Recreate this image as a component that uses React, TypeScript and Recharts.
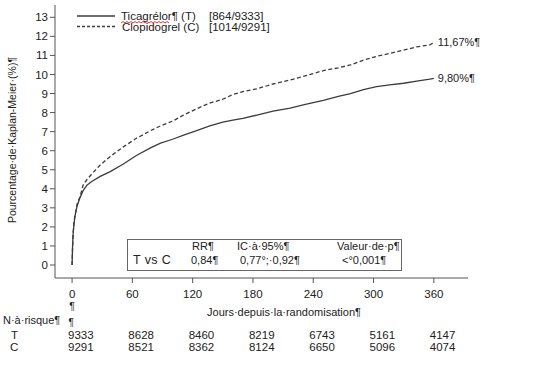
import { LineChart, Line, XAxis, YAxis } from "recharts";

// Kaplan-Meier curves
const days = [0, 0.5, 1, 2, 3, 5, 8, 11, 15, 20, 28, 38, 51, 64, 78, 88, 100, 111, 124, 137, 150, 160, 170, 184, 200, 217, 230, 250, 265, 277, 290, 303, 316, 330, 343, 356, 360];
const ticagrelor = [0, 1.0, 1.6, 2.2, 2.6, 3.1, 3.55, 3.9, 4.2, 4.4, 4.65, 4.9, 5.3, 5.75, 6.15, 6.4, 6.6, 6.82, 7.05, 7.3, 7.5, 7.6, 7.7, 7.87, 8.08, 8.23, 8.4, 8.64, 8.85, 9.0, 9.2, 9.36, 9.45, 9.54, 9.65, 9.75, 9.8];
const clopidogrel = [0, 1.0, 1.65, 2.3, 2.6, 3.2, 3.6, 4.2, 4.5, 4.8, 5.25, 5.7, 6.2, 6.65, 7.05, 7.3, 7.55, 7.87, 8.2, 8.5, 8.7, 8.95, 9.1, 9.25, 9.5, 9.71, 9.9, 10.2, 10.35, 10.5, 10.75, 10.95, 11.1, 11.28, 11.45, 11.55, 11.67];

const xTicks = [0, 60, 120, 180, 240, 300, 360];
const yTicks = [0, 1, 2, 3, 4, 5, 6, 7, 8, 9, 10, 11, 12, 13];
const atRiskT = [9333, 8628, 8460, 8219, 6743, 5161, 4147];
const atRiskC = [9291, 8521, 8362, 8124, 6650, 5096, 4074];

const endLabelT = "9,80%¶";
const endLabelC = "11,67%¶";

const data = days.map((d, i) => ({ day: d, T: ticagrelor[i], C: clopidogrel[i] }));

const FONT = "Arial, 'Liberation Sans', sans-serif";
const INK = "#222";
const LINE = "#3c3c3c";

function XTick(props: any) {
  const { x, y, payload, index } = props;
  return (
    <g fontFamily={FONT} fill={INK}>
      <text x={x} y={y + 13} textAnchor="middle" fontSize={11.5}>{payload.value}</text>
      {index === 0 && (
        <>
          <text x={x} y={y + 25} textAnchor="middle" fontSize={10.5}>¶</text>
          <text x={x - 1} y={y + 41} textAnchor="middle" fontSize={10}>¶</text>
        </>
      )}
      <text x={x - 4} y={y + 54} fontSize={11.5}>{atRiskT[index]}</text>
      <text x={x - 4} y={y + 66} fontSize={11.5}>{atRiskC[index]}</text>
    </g>
  );
}

function endLabel(text: string) {
  return (props: any) => {
    const { x, y, index } = props;
    if (index !== data.length - 1) return null;
    return (
      <text key="end" x={x + 4} y={y} dy="0.35em" fontSize={11} fontFamily={FONT} fill={INK}>
        {text}
      </text>
    );
  };
}

export default function App() {
  return (
    <div style={{ position: "absolute", left: 0, top: 0, width: 552, height: 369, background: "#fff", fontFamily: FONT }}>
      <LineChart width={552} height={369} data={data} margin={{ top: 5, right: 84, left: 0, bottom: 61 }}>
        <XAxis
          type="number"
          dataKey="day"
          domain={[-17, 394]}
          ticks={xTicks}
          interval={0}
          allowDataOverflow
          height={30}
          tickSize={5}
          stroke="#555"
          tick={<XTick />}
          label={{
            content: () => (
              <text x={284} y={316} textAnchor="middle" fontSize={11} fontFamily={FONT} fill={INK}>
                Jours·depuis·la·randomisation¶
              </text>
            ),
          }}
        />
        <YAxis
          type="number"
          domain={[-0.682, 13.646]}
          ticks={yTicks}
          interval={0}
          allowDataOverflow
          width={55}
          tickSize={5}
          stroke="#555"
          tick={{ fontSize: 11.5, fill: INK, fontFamily: FONT }}
          label={{
            content: () => (
              <text
                x={12}
                y={140}
                transform="rotate(-90 12 140)"
                textAnchor="middle"
                dominantBaseline="central"
                fontSize={10.5}
                fontFamily={FONT}
                fill={INK}
              >
                Pourcentage·de·Kaplan-Meier·(%)¶
              </text>
            ),
          }}
        />
        <Line
          dataKey="C"
          type="linear"
          stroke={LINE}
          strokeWidth={1.3}
          strokeDasharray="4 2.5"
          dot={false}
          isAnimationActive={false}
          label={endLabel(endLabelC)}
        />
        <Line
          dataKey="T"
          type="linear"
          stroke={LINE}
          strokeWidth={1.3}
          dot={false}
          isAnimationActive={false}
          label={endLabel(endLabelT)}
        />
      </LineChart>

      <svg width={552} height={369} style={{ position: "absolute", left: 0, top: 0, pointerEvents: "none" }} fontFamily={FONT} fill={INK}>
        {/* legend */}
        <line x1={77} y1={16} x2={115} y2={16} stroke={LINE} strokeWidth={1.5} />
        <line x1={77} y1={26.5} x2={115} y2={26.5} stroke={LINE} strokeWidth={1.3} strokeDasharray="3 2" />
        <text x={121} y={20} fontSize={11.5}>Ticagrélor¶ (T)</text>
        <polyline
          points="121,23 123,21.5 125,23 127,21.5 129,23 131,21.5 133,23 135,21.5 137,23 139,21.5 141,23 143,21.5 145,23 147,21.5 149,23 151,21.5 153,23 155,21.5 157,23 159,21.5 161,23 163,21.5 165,23 167,21.5 169,23"
          fill="none"
          stroke="#e02020"
          strokeWidth={0.9}
        />
        <text x={209} y={20} fontSize={11.5}>[864/9333]</text>
        <text x={122} y={30.5} fontSize={11.5}>Clopidogrel (C)</text>
        <text x={209} y={30.5} fontSize={11.5}>[1014/9291]</text>

        {/* stats box */}
        <rect x={127.5} y={239.5} width={274} height={31} fill="#fff" stroke="#666" strokeWidth={1} />
        <text x={192} y={249.5} fontSize={11}>RR¶</text>
        <text x={237} y={249.5} fontSize={11}>IC·à·95%¶</text>
        <text x={337} y={249.5} fontSize={11}>Valeur·de·p¶</text>
        <text x={133} y={264} fontSize={12.5} letterSpacing={0.4}>T vs C</text>
        <text x={191} y={263.5} fontSize={11}>0,84¶</text>
        <text x={240} y={263.5} fontSize={11}>0,77°;·0,92¶</text>
        <text x={342} y={263.5} fontSize={11}>&lt;°0,001¶</text>

        {/* at-risk row headers */}
        <text x={3} y={324} fontSize={11}>N·à·risque¶</text>
        <text x={11} y={339} fontSize={11.5}>T</text>
        <text x={10} y={351} fontSize={11.5}>C</text>
      </svg>
    </div>
  );
}
